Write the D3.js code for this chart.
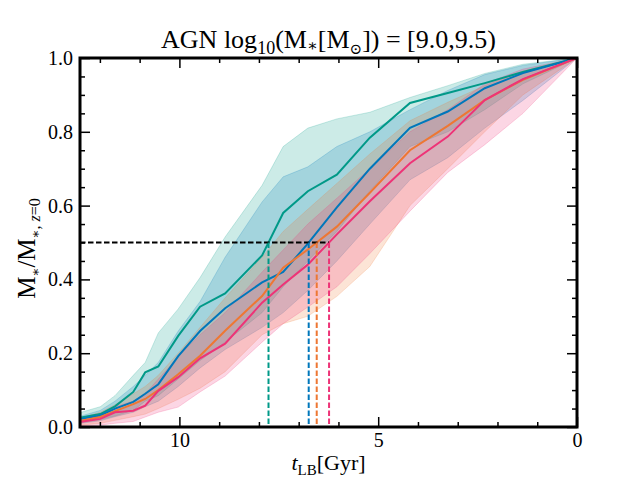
<!DOCTYPE html>
<html>
<head>
<meta charset="utf-8">
<script src="https://cdn.jsdelivr.net/npm/d3@7"></script>
<style>
  body { margin: 0; background: #fff; }
  svg { display: block; }
  text { font-family: "Liberation Serif", "Times New Roman", "DejaVu Serif", serif; fill: #000; }
</style>
</head>
<body>
<div class="canvas"></div>
<script>
//? DATA (lookback time of each snapshot, Gyr)
const tLB = [12.47, 11.99, 11.62, 11.16, 10.86, 10.53, 10.03, 9.48, 8.85, 7.92, 7.39, 6.77, 6.04, 5.21, 4.20, 3.25, 2.32, 1.36, 0.0]

//? median M*/M*,z=0 for each group
const tealMed = [0.026, 0.035, 0.056, 0.095, 0.148, 0.164, 0.247, 0.326, 0.362, 0.465, 0.580, 0.639, 0.684, 0.784, 0.878, 0.905, 0.932, 0.962, 1.0]
const blueMed = [0.022, 0.031, 0.050, 0.068, 0.090, 0.116, 0.192, 0.260, 0.322, 0.392, 0.420, 0.497, 0.595, 0.700, 0.811, 0.855, 0.918, 0.959, 1.0]
const orangeMed = [0.017, 0.027, 0.043, 0.062, 0.076, 0.100, 0.143, 0.193, 0.261, 0.355, 0.432, 0.481, 0.543, 0.635, 0.750, 0.816, 0.886, 0.941, 1.0]
const pinkMed = [0.014, 0.022, 0.040, 0.044, 0.058, 0.098, 0.135, 0.186, 0.226, 0.337, 0.386, 0.440, 0.522, 0.612, 0.715, 0.787, 0.886, 0.943, 1.0]

//? upper / lower percentiles
const tealHi = [0.040, 0.055, 0.085, 0.140, 0.175, 0.255, 0.320, 0.405, 0.515, 0.655, 0.760, 0.810, 0.835, 0.853, 0.893, 0.925, 0.958, 0.983, 1.0]
const tealLo = [0.012, 0.020, 0.030, 0.045, 0.070, 0.085, 0.130, 0.180, 0.230, 0.310, 0.380, 0.450, 0.530, 0.640, 0.760, 0.800, 0.860, 0.930, 1.0]
const blueHi = [0.030, 0.045, 0.070, 0.110, 0.140, 0.175, 0.260, 0.340, 0.460, 0.610, 0.678, 0.705, 0.760, 0.800, 0.860, 0.912, 0.955, 0.980, 1.0]
const blueLo = [0.010, 0.017, 0.028, 0.040, 0.055, 0.070, 0.110, 0.160, 0.210, 0.270, 0.310, 0.370, 0.450, 0.550, 0.670, 0.730, 0.810, 0.885, 1.0]
const orangeHi = [0.025, 0.040, 0.060, 0.090, 0.110, 0.140, 0.200, 0.270, 0.350, 0.460, 0.530, 0.590, 0.660, 0.740, 0.830, 0.880, 0.925, 0.965, 1.0]
const orangeLo = [0.005, 0.010, 0.018, 0.028, 0.035, 0.050, 0.075, 0.105, 0.150, 0.250, 0.280, 0.300, 0.354, 0.435, 0.600, 0.700, 0.800, 0.900, 1.0]
const pinkHi = [0.022, 0.035, 0.055, 0.070, 0.090, 0.130, 0.190, 0.250, 0.310, 0.420, 0.480, 0.550, 0.620, 0.700, 0.800, 0.860, 0.930, 0.970, 1.0]
const pinkLo = [0.002, 0.005, 0.010, 0.015, 0.027, 0.040, 0.054, 0.095, 0.138, 0.230, 0.280, 0.325, 0.380, 0.470, 0.585, 0.690, 0.765, 0.850, 1.0]

const xMajor = [10, 5, 0]
const yMajor = [0, 0.2, 0.4, 0.6, 0.8, 1.0]

const series = [
  { med: tealMed, hi: tealHi, lo: tealLo, color: '#009988' },
  { med: blueMed, hi: blueHi, lo: blueLo, color: '#0077BB' },
  { med: orangeMed, hi: orangeHi, lo: orangeLo, color: '#EE7733' },
  { med: pinkMed, hi: pinkHi, lo: pinkLo, color: '#EE3377' }
]

const dims = { width: 640, height: 480 }
const plot = { left: 80, right: 577, top: 58, bottom: 427 }
const serif = '"Liberation Serif", "Times New Roman", serif'

const svg = d3
  .select('.canvas')
  .append('svg')
  .attr('width', dims.width)
  .attr('height', dims.height)

const x = d3.scaleLinear().domain([12.5, 0]).range([plot.left, plot.right])
const y = d3.scaleLinear().domain([0, 1]).range([plot.bottom, plot.top])

svg.append('clipPath').attr('id', 'clip')
  .append('rect')
  .attr('x', plot.left).attr('y', plot.top)
  .attr('width', plot.right - plot.left).attr('height', plot.bottom - plot.top)

const graph = svg.append('g').attr('clip-path', 'url(#clip)')

//? BANDS
const area = d3.area()
  .x(d => x(d.t))
  .y0(d => y(d.lo))
  .y1(d => y(d.hi))

const line = d3.line()
  .x(d => x(d.t))
  .y(d => y(d.v))

series.forEach(s => {
  const pts = tLB.map((t, i) => ({ t, lo: s.lo[i], hi: s.hi[i] }))
  graph.append('path')
    .attr('d', area(pts))
    .attr('fill', s.color)
    .attr('fill-opacity', 0.2)
    .attr('stroke', s.color)
    .attr('stroke-opacity', 0.2)
    .attr('stroke-width', 1)
})

//? MEDIAN LINES
series.forEach(s => {
  graph.append('path')
    .attr('d', line(tLB.map((t, i) => ({ t, v: s.med[i] }))))
    .attr('fill', 'none')
    .attr('stroke', s.color)
    .attr('stroke-width', 2)
})

//* time at which half of the final mass was in place
const halfTime = vals => {
  for (let i = 0; i < vals.length - 1; i++) {
    if (vals[i] < 0.5 && vals[i + 1] >= 0.5) {
      const f = (0.5 - vals[i]) / (vals[i + 1] - vals[i])
      return tLB[i] + f * (tLB[i + 1] - tLB[i])
    }
  }
  return 0
}

const halves = series.map(s => halfTime(s.med))

graph.append('line')
  .attr('x1', x(12.5)).attr('x2', x(d3.min(halves)))
  .attr('y1', y(0.5)).attr('y2', y(0.5))
  .attr('stroke', '#000')
  .attr('stroke-width', 2)
  .attr('stroke-dasharray', '5.5,2.5')

series.forEach((s, i) => {
  graph.append('line')
    .attr('x1', x(halves[i])).attr('x2', x(halves[i]))
    .attr('y1', y(0.5)).attr('y2', y(0))
    .attr('stroke', s.color)
    .attr('stroke-width', 2)
    .attr('stroke-dasharray', '5.5,2.5')
})

//? AXES (ticks pointing inward on all four sides)
const xMinor = d3.range(1, 13).filter(v => !xMajor.includes(v))
const yMinor = d3.range(1, 20).map(v => v * 0.05).filter((v, i) => (i + 1) % 4 !== 0)

const styleAxis = g => {
  g.attr('font-family', serif).attr('font-size', 20)
  g.select('.domain').remove()
  g.selectAll('.tick line').attr('stroke-width', 1.5)
  g.selectAll('.tick text')
    .style('font-family', serif)
    .style('font-size', '20px')
}

svg.append('g').attr('transform', `translate(0,${plot.bottom})`)
  .call(d3.axisBottom(x).tickValues(xMajor).tickFormat(d3.format('d')).tickSize(-10).tickPadding(6))
  .call(styleAxis)
svg.append('g').attr('transform', `translate(0,${plot.bottom})`)
  .call(d3.axisBottom(x).tickValues(xMinor).tickFormat('').tickSize(-5))
  .call(styleAxis)
svg.append('g').attr('transform', `translate(0,${plot.top})`)
  .call(d3.axisTop(x).tickValues(xMajor).tickFormat('').tickSize(-10))
  .call(styleAxis)
svg.append('g').attr('transform', `translate(0,${plot.top})`)
  .call(d3.axisTop(x).tickValues(xMinor).tickFormat('').tickSize(-5))
  .call(styleAxis)

svg.append('g').attr('transform', `translate(${plot.left},0)`)
  .call(d3.axisLeft(y).tickValues(yMajor).tickFormat(d3.format('.1f')).tickSize(-10).tickPadding(7))
  .call(styleAxis)
svg.append('g').attr('transform', `translate(${plot.left},0)`)
  .call(d3.axisLeft(y).tickValues(yMinor).tickFormat('').tickSize(-5))
  .call(styleAxis)
svg.append('g').attr('transform', `translate(${plot.right},0)`)
  .call(d3.axisRight(y).tickValues(yMajor).tickFormat('').tickSize(-10))
  .call(styleAxis)
svg.append('g').attr('transform', `translate(${plot.right},0)`)
  .call(d3.axisRight(y).tickValues(yMinor).tickFormat('').tickSize(-5))
  .call(styleAxis)

//? FRAME
svg.append('rect')
  .attr('x', plot.left).attr('y', plot.top)
  .attr('width', plot.right - plot.left).attr('height', plot.bottom - plot.top)
  .attr('fill', 'none')
  .attr('stroke', '#000')
  .attr('stroke-width', 3)

//? TITLE AND LABELS
const cx = (plot.left + plot.right) / 2

const title = svg.append('text')
  .attr('x', cx).attr('y', 48)
  .attr('text-anchor', 'middle')
  .attr('font-size', 26)
title.append('tspan').text('AGN log')
title.append('tspan').attr('font-size', 18).attr('dy', 6).text('10')
title.append('tspan').attr('dy', -6).text('(M')
title.append('tspan').attr('font-size', 16).attr('dy', 3).text('∗')
title.append('tspan').attr('dy', -3).text('[M')
title.append('tspan').attr('dy', 6).style('font-family', '"DejaVu Serif", serif').attr('font-size', 15).text('⊙')
title.append('tspan').attr('dy', -6).text(']) = [9.0,9.5)')

const xLabel = svg.append('text')
  .attr('x', cx).attr('y', 470)
  .attr('text-anchor', 'middle')
  .attr('font-size', 22)
xLabel.append('tspan').attr('font-style', 'italic').text('t')
xLabel.append('tspan').attr('font-size', 15).attr('dy', 5).text('LB')
xLabel.append('tspan').attr('dy', -5).text('[Gyr]')

const yLabel = svg.append('text')
  .attr('transform', `translate(35,${(plot.top + plot.bottom) / 2 + 6}) rotate(-90)`)
  .attr('text-anchor', 'middle')
  .attr('font-size', 25)
yLabel.append('tspan').text('M')
yLabel.append('tspan').attr('font-size', 13).attr('dy', 5).text('∗')
yLabel.append('tspan').attr('dy', -5).text('/M')
yLabel.append('tspan').attr('font-size', 13).attr('dy', 5).text('∗')
yLabel.append('tspan').attr('font-size', 16).text(', ')
yLabel.append('tspan').attr('font-size', 16).attr('font-style', 'italic').text('z')
yLabel.append('tspan').attr('font-size', 16).text('=0')
</script>
</body>
</html>
